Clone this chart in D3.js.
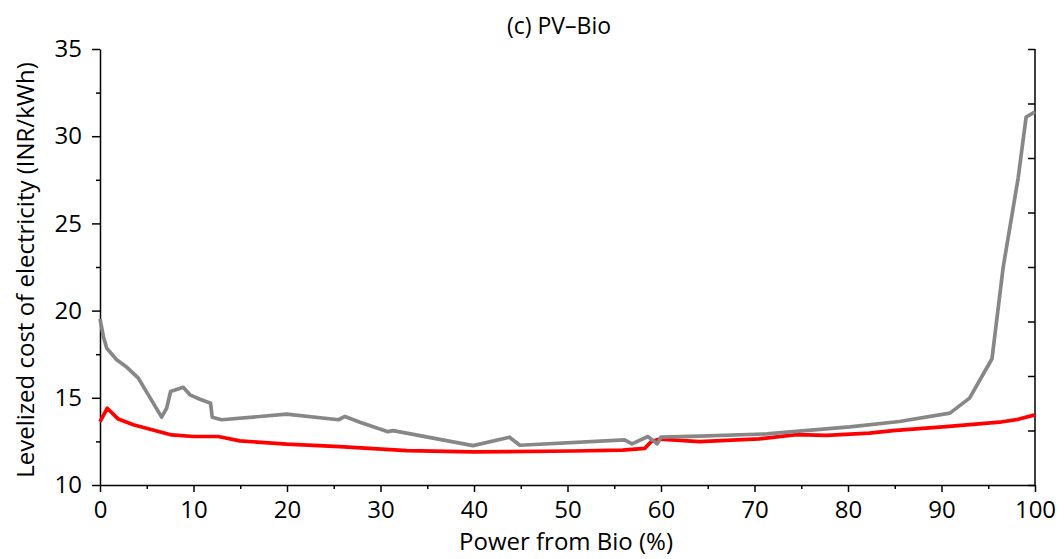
<!DOCTYPE html>
<html>
<head>
<meta charset="utf-8">
<script src="https://cdn.jsdelivr.net/npm/d3@7"></script>
<style>
  body { margin: 0; background: #fff; }
  text { font-family: "Open Sans", sans-serif; fill: #000; }
</style>
</head>
<body>
<div id="vis"></div>
<script>
const frame_width = 1064;
const frame_height = 559;
const margins = {left: 100, right: 29, top: 49, bottom: 74};

// grey curve: (power from bio %, LCOE)
const grey_x = [0, 0.36, 0.71, 1.78, 2.85, 4.1, 6.59, 7.13, 7.55, 8.9, 9.62, 10.69, 11.83, 12.0, 13.0,
    19.96, 25.5, 26.2, 27.8, 30.8, 31.35, 39.9, 43.8, 44.9, 56.1, 56.9, 58.6, 59.6, 60.0, 64.1,
    71.3, 80.2, 85.5, 90.9, 93.0, 95.4, 96.6, 98.2, 99.05, 100];
const grey_y = [19.52, 18.52, 17.85, 17.18, 16.76, 16.13, 13.89, 14.41, 15.36, 15.6, 15.17, 14.92, 14.69, 13.89, 13.74,
    14.06, 13.74, 13.93, 13.6, 13.06, 13.12, 12.26, 12.74, 12.28, 12.59, 12.36, 12.78, 12.36, 12.74, 12.8,
    12.93, 13.33, 13.64, 14.12, 14.98, 17.24, 22.5, 27.6, 31.1, 31.4];

// red curve
const red_x = [0, 0.78, 1.96, 3.56, 7.66, 9.98, 12.65, 14.96, 19.96, 25.65, 32.8, 39.9, 50.6, 55.9,
    58.26, 58.97, 59.86, 64.1, 70.5, 74.5, 77.7, 82.3, 84.8, 90.5, 96.2, 98.3, 100];
const red_y = [13.64, 14.4, 13.78, 13.45, 12.87, 12.78, 12.78, 12.53, 12.34, 12.2, 11.97, 11.9, 11.95, 12.0,
    12.1, 12.49, 12.63, 12.49, 12.64, 12.89, 12.85, 12.97, 13.12, 13.35, 13.6, 13.78, 14.02];

const x_ticks = [0, 10, 20, 30, 40, 50, 60, 70, 80, 90, 100];
const y_ticks = [10, 15, 20, 25, 30, 35];

const FRAME =
d3.select("#vis")
    .append("svg")
        .attr("width", frame_width)
        .attr("height", frame_height);

const x_scale =
d3.scaleLinear()
    .domain([0, 100])
    .range([margins.left, frame_width - margins.right]);

const y_scale =
d3.scaleLinear()
    .domain([10, 35])
    .range([frame_height - margins.bottom, margins.top]);

// right side has its own unlabelled ticks (8 intervals)
const y_right =
d3.scaleLinear()
    .domain([0, 8])
    .range([frame_height - margins.bottom, margins.top]);

const bottom = frame_height - margins.bottom;

// minor ticks first
FRAME.append("g")
    .attr("transform", "translate(0," + bottom + ")")
    .call(d3.axisBottom(x_scale).tickValues(d3.range(5, 100, 10)).tickSize(4).tickFormat(""))
    .call(g => g.select(".domain").remove());

FRAME.append("g")
    .attr("transform", "translate(" + margins.left + ",0)")
    .call(d3.axisLeft(y_scale).tickValues(d3.range(12.5, 35, 5)).tickSize(4).tickFormat(""))
    .call(g => g.select(".domain").remove());

// major axes
const xAxis = FRAME.append("g")
    .attr("transform", "translate(0," + bottom + ")")
    .call(d3.axisBottom(x_scale).tickValues(x_ticks).tickSize(7).tickSizeOuter(0).tickPadding(9));

xAxis.selectAll("text").attr("font-size", "24px");

const yAxis = FRAME.append("g")
    .attr("transform", "translate(" + margins.left + ",0)")
    .call(d3.axisLeft(y_scale).tickValues(y_ticks).tickSize(8).tickSizeOuter(0).tickPadding(10));

yAxis.selectAll("text").attr("font-size", "24px");

FRAME.append("g")
    .attr("transform", "translate(" + (frame_width - margins.right) + ",0)")
    .call(d3.axisLeft(y_right).ticks(8).tickSize(7).tickSizeOuter(0).tickFormat(""))
    .call(g => g.select(".domain").remove());

FRAME.append("line")
    .attr("x1", frame_width - margins.right)
    .attr("x2", frame_width - margins.right)
    .attr("y1", margins.top)
    .attr("y2", bottom);

FRAME.selectAll(".tick line").attr("stroke", "#000").attr("stroke-width", 1.5);
FRAME.selectAll(".domain").attr("stroke", "#000").attr("stroke-width", 1.5);
FRAME.selectAll("line").filter(function() { return !this.getAttribute("stroke"); })
    .attr("stroke", "#000").attr("stroke-width", 1.5);

const line = d3.line()
    .x(d => x_scale(d[0]))
    .y(d => y_scale(d[1]));

FRAME.append("path")
    .datum(red_x.map((v, i) => [v, red_y[i]]))
    .attr("d", line)
    .attr("fill", "none")
    .attr("stroke", "#ff0000")
    .attr("stroke-width", 3.7)
    .attr("stroke-linejoin", "round");

FRAME.append("path")
    .datum(grey_x.map((v, i) => [v, grey_y[i]]))
    .attr("d", line)
    .attr("fill", "none")
    .attr("stroke", "#878787")
    .attr("stroke-width", 3.7)
    .attr("stroke-linejoin", "round");

// titles
FRAME.append("text")
    .attr("x", 559)
    .attr("y", 34)
    .attr("text-anchor", "middle")
    .attr("font-size", "23px")
    .text("(c) PV–Bio");

FRAME.append("text")
    .attr("x", 566)
    .attr("y", 550)
    .attr("text-anchor", "middle")
    .attr("font-size", "24px")
    .text("Power from Bio (%)");

FRAME.append("text")
    .attr("transform", "translate(34,270) rotate(-90)")
    .attr("text-anchor", "middle")
    .attr("font-size", "24px")
    .text("Levelized cost of electricity (INR/kWh)");
</script>
</body>
</html>
